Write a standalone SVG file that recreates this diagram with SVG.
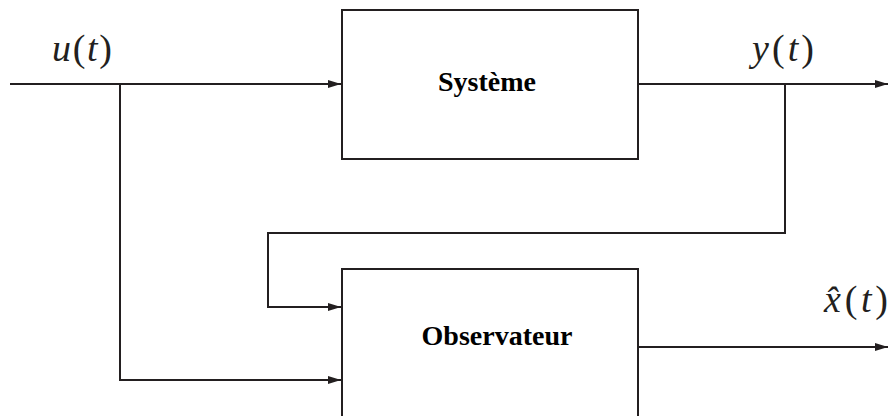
<svg xmlns="http://www.w3.org/2000/svg" width="888" height="416" viewBox="0 0 888 416">
<style>
.box{fill:#fff;stroke:#231f20;stroke-width:2}
.ln{fill:none;stroke:#231f20;stroke-width:2}
.lbl{font-family:"Liberation Serif","DejaVu Serif",serif;font-weight:bold;font-size:28px;fill:#000;text-anchor:middle}
.math{font-family:"Liberation Serif","DejaVu Serif",serif;font-style:italic;font-size:38px;fill:#231f20}
.up{font-style:normal}
</style>
<defs>
<marker id="ar" markerWidth="14" markerHeight="10" refX="13" refY="5" orient="auto" markerUnits="userSpaceOnUse">
<path d="M0,1 L13,5 L0,9 Z" fill="#231f20"/>
</marker>
</defs>
<g id="connectors">
<path class="ln" d="M10,84 H341" marker-end="url(#ar)"/>
<path class="ln" d="M120,84 V380 H341" marker-end="url(#ar)"/>
<path class="ln" d="M638,84 H888" marker-end="url(#ar)"/>
<path class="ln" d="M785,84 V233 H268 V307 H341" marker-end="url(#ar)"/>
<path class="ln" d="M638,347 H888" marker-end="url(#ar)"/>
</g>
<g id="systeme">
<rect class="box" x="342" y="10" width="296" height="149"/>
<text class="lbl" x="487" y="91">Système</text>
</g>
<g id="observateur">
<rect class="box" x="342" y="269" width="296" height="160"/>
<text class="lbl" x="497" y="345">Observateur</text>
</g>
<g id="labels">
<text class="math" x="52" y="61" textLength="60" lengthAdjust="spacing">u<tspan class="up">(</tspan>t<tspan class="up">)</tspan></text>
<text class="math" x="752" y="61" textLength="62" lengthAdjust="spacing">y<tspan class="up">(</tspan>t<tspan class="up">)</tspan></text>
<text class="math" x="824" y="312" textLength="64" lengthAdjust="spacing">x̂<tspan class="up">(</tspan>t<tspan class="up">)</tspan></text>
</g>
</svg>
